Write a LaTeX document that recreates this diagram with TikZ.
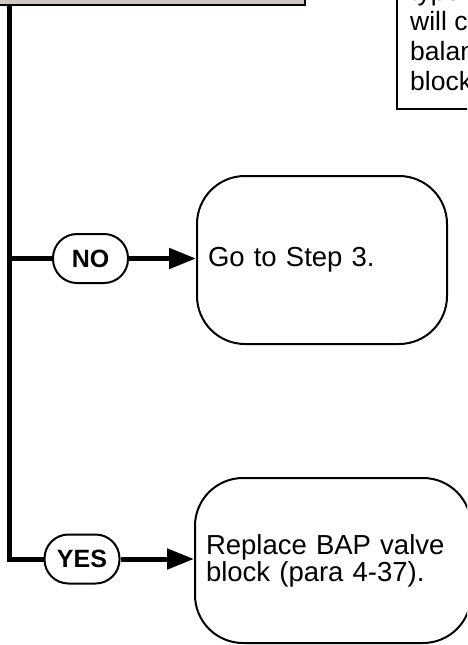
\documentclass[tikz,border=0pt]{standalone}
\usepackage{fontspec}
\setmainfont{Liberation Sans}
\newfontfamily\boxfont{Liberation Sans}
\usetikzlibrary{arrows.meta}
\definecolor{topgray}{RGB}{207,199,195}
\tikzset{
  heavy/.style={line width=5pt},
  thin/.style={line width=2pt},
  pill/.style={draw, thin, fill=white, rounded corners=24pt, minimum width=75pt, minimum height=49pt, inner sep=0pt, font=\fontsize{25}{27}\selectfont\bfseries},
  actbox/.style={draw, thin, fill=white, rounded corners=48pt, inner xsep=11pt, inner ysep=0pt, align=left, font=\boxfont\fontsize{27.5}{27}\selectfont},
  notetext/.style={anchor=base west, inner sep=0pt, font=\fontsize{26.5}{30}\selectfont},
  arr/.style={heavy, -{Triangle[length=27pt,width=20pt]}}
}
\begin{document}
\begin{tikzpicture}[x=1pt,y=-1pt]
\useasboundingbox (0,0) rectangle (467,645);
\clip (0,0) rectangle (467,645);
% top box (cut off)
\node[draw, thin, fill=topgray, minimum width=325pt, minimum height=45pt, inner sep=0pt] (topbox) at (142.5,-17.5) {};
% note box (cut off)
\node[draw, thin, fill=white, minimum width=110pt, minimum height=139pt, inner sep=0pt] (notebox) at (452,39.5) {};
\node[notetext] (nt0) at (410,0) {type};
\node[notetext] (nt1) at (410,30) {will cause};
\node[notetext] (nt2) at (410,60) {balance};
\node[notetext] (nt3) at (410,90) {block};
% action boxes
\node[actbox, minimum width=250pt, minimum height=168pt, text width=228pt] (box1) at (322,260) {Go to Step 3.};
\node[actbox, minimum width=276pt, minimum height=165pt, text width=254pt] (box2) at (333,560.5) {Replace BAP valve\\block (para 4-37).};
% decision pills
\node[pill] (no) at (90.5,258.5) {NO};
\node[pill] (yes) at (82,559) {YES};
% connectors
\coordinate (c1) at (9,258.5);
\coordinate (c2) at (9,559);
\draw[heavy] (topbox.south -| c2) -- (c2) -- (yes.west);
\draw[heavy] (c1) -- (no.west);
\draw[arr] (no.east) -- (no.east -| box1.west);
\draw[arr] (yes.east) -- (yes.east -| box2.west);
\end{tikzpicture}
\end{document}
